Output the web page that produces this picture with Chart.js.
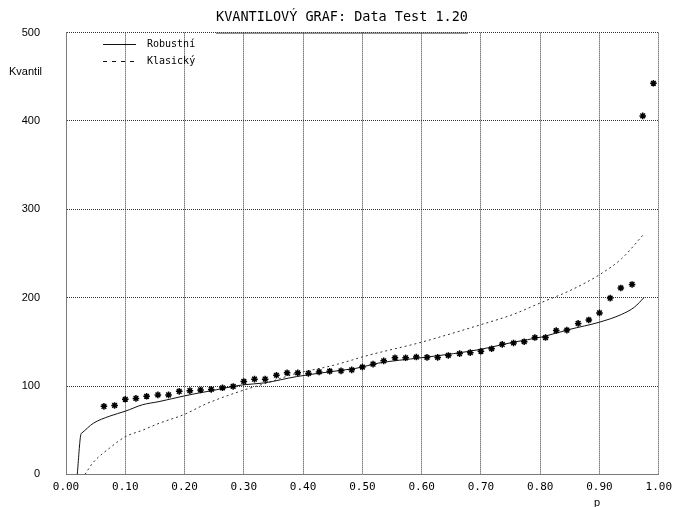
<!DOCTYPE html>
<html>
<head>
<meta charset="utf-8">
<title>Kvantilový graf</title>
<script src="https://cdn.jsdelivr.net/npm/chart.js@4.4.1/dist/chart.umd.min.js"></script>
<style>
  html, body { margin: 0; padding: 0; background: #fff; }
  canvas { display: block; }
</style>
</head>
<body>
<canvas id="qq" width="678" height="507"></canvas>
<script>
// empirical quantiles (p, value)
const sampleP = [
  0.064, 0.082, 0.100, 0.118, 0.136, 0.155, 0.173, 0.191, 0.209, 0.227,
  0.245, 0.264, 0.282, 0.300, 0.318, 0.336, 0.355, 0.373, 0.391, 0.409,
  0.427, 0.445, 0.464, 0.482, 0.500, 0.518, 0.536, 0.555, 0.573, 0.591,
  0.609, 0.627, 0.645, 0.664, 0.682, 0.700, 0.718, 0.736, 0.755, 0.773,
  0.791, 0.809, 0.827, 0.845, 0.864, 0.882, 0.900, 0.918, 0.936, 0.955,
  0.973, 0.991
];
const sampleQ = [
  77, 78, 85, 86, 88.4, 90, 90, 94, 94.8, 95.6,
  96.2, 98, 99.5, 105.2, 107.8, 107.8, 112.2, 115, 115, 114.3,
  116, 116.8, 117.2, 118.3, 121.5, 124.8, 128.5, 132, 132, 132.8,
  132.4, 132.4, 134.6, 136.7, 137.8, 139.3, 142.2, 147.2, 148.7, 150.2,
  154.9, 154.9, 162.8, 163.3, 170.9, 174.8, 182.8, 199.5, 211, 215,
  405.7, 442.6
];

// robust model quantile curve
const robustP = [0.019, 0.025, 0.027, 0.046, 0.074, 0.100, 0.129, 0.157, 0.200, 0.223, 0.240,
  0.298, 0.334, 0.389, 0.444, 0.472, 0.489, 0.527, 0.599, 0.654, 0.699, 0.737, 0.754,
  0.803, 0.849, 0.900, 0.937, 0.959, 0.975];
const robustQ = [0, 45, 47, 57.8, 66, 71.5, 78.8, 82.4, 88.9, 92, 94,
  101.3, 103.5, 110.7, 116, 118.5, 120, 125.9, 132, 136.7, 141.5, 147, 149.5,
  155.6, 164, 172.3, 181, 189.3, 200];

// classical model quantile curve
const classicP = [0.032, 0.046, 0.074, 0.100, 0.129, 0.157, 0.200, 0.237, 0.298, 0.334,
  0.389, 0.444, 0.483, 0.500, 0.599, 0.699, 0.754, 0.800, 0.850, 0.900, 0.937, 0.975];
const classicQ = [0, 13.6, 30, 42.6, 50, 57.8, 68, 80, 95, 102.4,
  114.3, 122.3, 129.5, 133, 149.5, 169.3, 181, 194, 208, 226, 244, 272];

const xTicks = [0, 0.1, 0.2, 0.3, 0.4, 0.5, 0.6, 0.7, 0.8, 0.9, 1.0];
const yTicks = [0, 100, 200, 300, 400, 500];

const titleText = 'KVANTILOVÝ GRAF: Data Test 1.20';
const seriesNames = ['Robustní', 'Klasický'];

const MONO = '"DejaVu Sans Mono", monospace';
const SANS = '"Liberation Sans", Arial, sans-serif';

function toPoints(xs, ys) {
  return xs.map((x, i) => ({ x, y: ys[i] }));
}

// title, axis captions and the inset legend
const decorations = {
  id: 'decorations',
  afterDraw(chart) {
    const { ctx, chartArea } = chart;
    ctx.save();
    ctx.fillStyle = '#000';
    ctx.textBaseline = 'alphabetic';

    ctx.font = '13.5px ' + MONO;
    const tw = ctx.measureText(titleText).width;
    const tx = 342 - tw / 2;
    ctx.fillText(titleText, tx, 21);
    ctx.strokeStyle = '#444';
    ctx.lineWidth = 1;
    ctx.beginPath();
    ctx.moveTo(tx, chartArea.top + 0.5);
    ctx.lineTo(tx + tw, chartArea.top + 0.5);
    ctx.stroke();

    ctx.font = '11px ' + SANS;
    ctx.textBaseline = 'middle';
    ctx.fillText('Kvantil', 9, 72);
    ctx.fillText('p', 594, 503);

    const sets = chart.data.datasets;
    ctx.font = '10px ' + MONO;
    [1, 2].forEach((di, row) => {
      const y = 44.5 + row * 17;
      ctx.strokeStyle = '#111';
      ctx.setLineDash(di === 2 ? [4, 5] : []);
      ctx.beginPath();
      ctx.moveTo(103, y);
      ctx.lineTo(136, y);
      ctx.stroke();
      ctx.setLineDash([]);
      ctx.fillText(seriesNames[row], 147, y);
    });
    ctx.restore();
  }
};

const gridOpts = { color: '#333', drawTicks: false, lineWidth: 1 };
const borderOpts = { display: true, color: '#7a7a7a', width: 1, dash: [1, 1] };

new Chart(document.getElementById('qq'), {
  type: 'scatter',
  data: {
    datasets: [
      {
        label: 'Data',
        data: toPoints(sampleP, sampleQ),
        pointStyle: 'star',
        pointRadius: 3.3,
        pointBorderWidth: 1.5,
        borderColor: '#000',
        backgroundColor: '#000',
        showLine: false,
        order: 0
      },
      {
        label: seriesNames[0],
        data: toPoints(robustP, robustQ),
        showLine: true,
        pointRadius: 0,
        borderColor: '#111',
        borderWidth: 1,
        cubicInterpolationMode: 'monotone',
        order: 1
      },
      {
        label: seriesNames[1],
        data: toPoints(classicP, classicQ),
        showLine: true,
        pointRadius: 0,
        borderColor: '#333',
        borderWidth: 1,
        borderDash: [2, 3],
        cubicInterpolationMode: 'monotone',
        order: 2
      }
    ]
  },
  options: {
    responsive: false,
    animation: false,
    devicePixelRatio: 1,
    layout: { padding: { top: 22, right: 10, left: 0, bottom: 0 } },
    plugins: {
      legend: { display: false },
      title: { display: false },
      tooltip: { enabled: false }
    },
    scales: {
      x: {
        type: 'linear',
        min: 0,
        max: 1,
        afterBuildTicks: scale => {
          scale.ticks = xTicks.map(value => ({ value }));
        },
        afterFit: scale => { scale.height = 24; },
        grid: gridOpts,
        border: borderOpts,
        ticks: {
          padding: 6,
          color: '#000',
          font: { family: MONO, size: 11 },
          maxRotation: 0,
          callback: v => Number(v).toFixed(2)
        }
      },
      y: {
        type: 'linear',
        min: 0,
        max: 500,
        afterBuildTicks: scale => {
          scale.ticks = yTicks.map(value => ({ value }));
        },
        afterFit: scale => { scale.width = 66; },
        grid: gridOpts,
        border: borderOpts,
        ticks: {
          padding: 26,
          color: '#000',
          font: { family: SANS, size: 11 }
        }
      }
    }
  },
  plugins: [decorations]
});
</script>
</body>
</html>
